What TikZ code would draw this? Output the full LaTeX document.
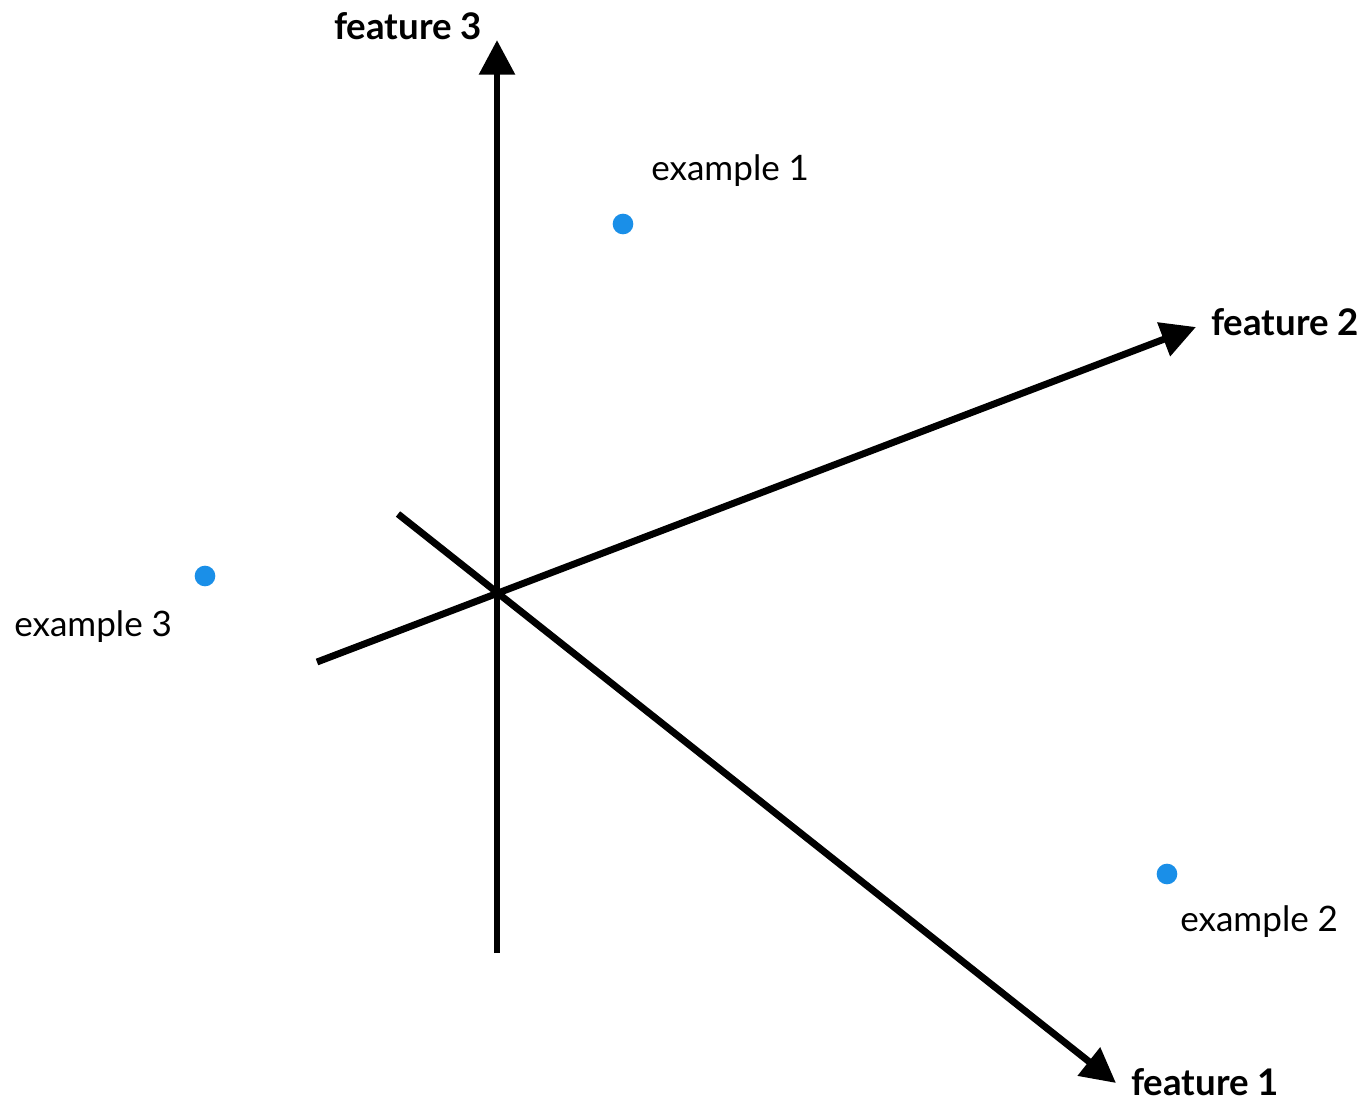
\documentclass[tikz,border=0pt]{standalone}
\usepackage{fontspec}
\setmainfont{Lato}
\usetikzlibrary{arrows.meta}
\definecolor{dotblue}{HTML}{1A8FE8}
\tikzset{
  axis/.style={line width=5.2pt, -{Triangle[length=26pt,width=26pt]}},
  ptdot/.style={circle, fill=dotblue, inner sep=0pt, minimum size=15.5pt},
  flabel/.style={font=\fontsize{27.5}{32}\selectfont\bfseries, inner sep=0pt, anchor=west},
  elabel/.style={font=\fontsize{26.3}{31}\selectfont, inner sep=0pt, anchor=west},
}
\begin{document}
\begin{tikzpicture}[x=0.75pt,y=-0.75pt]
\useasboundingbox (0,0) rectangle (1368,1103);
\coordinate (v0) at (497,953);
\coordinate (v1) at (497,40);
\coordinate (a0) at (317,662);
\coordinate (a1) at (1196,327);
\coordinate (b0) at (398,514);
\coordinate (b1) at (1116,1083);
\draw[axis] (v0) -- (v1);
\draw[axis] (a0) -- (a1);
\draw[axis] (b0) -- (b1);
\node[flabel] (f3) at (334,26) {feature 3};
\node[flabel] (f2) at (1211,322) {feature 2};
\node[flabel] (f1) at (1131,1082) {feature 1};
\node[ptdot] (p1) at (623,224) {};
\node[ptdot] (p2) at (1167,874) {};
\node[ptdot] (p3) at (205,576) {};
\node[elabel] (e1) at (651,171) {example 1};
\node[elabel] (e2) at (1180,922) {example 2};
\node[elabel] (e3) at (14,627) {example 3};
\end{tikzpicture}
\end{document}
